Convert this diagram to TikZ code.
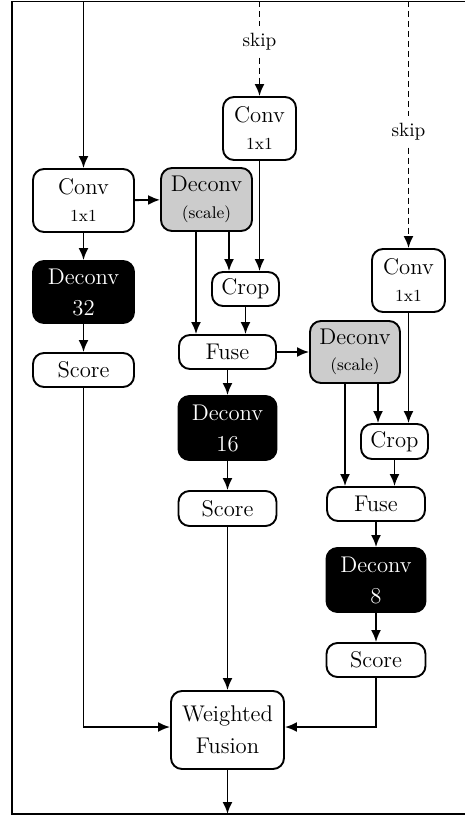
\documentclass[tikz,border=0pt]{standalone}
\usetikzlibrary{arrows.meta}
\font\mainfnt="[lmroman12-regular]:+tlig;" at 22.7pt
\font\smallfnt="[lmroman9-regular]:+tlig;" at 16.9pt
\font\skipfnt="[lmroman10-regular]:+tlig;" at 19.2pt
\newcommand\mainf{\fontsize{22.7}{31}\selectfont\mainfnt}
\newcommand\smallf{\fontsize{16.9}{22}\selectfont\smallfnt}
\newcommand\skipf{\fontsize{19.2}{24}\selectfont\skipfnt}
\begin{document}
\begin{tikzpicture}[x=1pt,y=-1pt,
  box/.style={draw, line width=1.9pt, rounded corners=11pt, align=center, inner sep=0pt, font=\mainf},
  grayb/.style={box, fill=black!20},
  blackb/.style={box, fill=black, text=white},
  arr/.style={-{Latex[length=12pt,width=10pt]}, line width=1.9pt},
  plainline/.style={line width=1.9pt},
  dashline/.style={line width=1.9pt, dash pattern=on 6pt off 4pt},
  dasharr/.style={arr, dash pattern=on 6pt off 4pt},
  skiplab/.style={inner sep=7pt, font=\skipf}]
\useasboundingbox (0,0) rectangle (465,818);
\draw[plainline] (12,1.5) rectangle (470,814);

% coordinates at the frame
\coordinate (top1) at (83.5,1.5);
\coordinate (top2) at (259.5,1.5);
\coordinate (top3) at (408.5,1.5);
\coordinate (bot) at (227.5,814);

% nodes
\node[box, minimum width=101pt, minimum height=63pt] (conv1) at (83.5,200.5) {Conv\\[-4pt]{\smallf 1x1}};
\node[grayb, minimum width=91pt, minimum height=63pt] (dsc1) at (206.5,199.5) {Deconv\\[-4pt]{\smallf (scale)}};
\node[box, minimum width=73pt, minimum height=63pt] (conv2) at (259.5,128.5) {Conv\\[-4pt]{\smallf 1x1}};
\node[box, minimum width=73pt, minimum height=63pt] (conv3) at (408.5,280.5) {Conv\\[-4pt]{\smallf 1x1}};
\node[blackb, minimum width=101pt, minimum height=62pt] (d32) at (83.5,292) {Deconv\\32};
\node[box, minimum width=101pt, minimum height=34pt] (s1) at (83.5,370) {Score};
\node[box, minimum width=67pt, minimum height=34pt] (crop1) at (245.5,289) {Crop};
\node[box, minimum width=97pt, minimum height=34pt] (fuse1) at (227.5,352) {Fuse};
\node[grayb, minimum width=90pt, minimum height=62pt] (dsc2) at (355,352) {Deconv\\[-5pt]{\smallf (scale)}};
\node[blackb, minimum width=98pt, minimum height=64pt] (d16) at (227.5,428) {Deconv\\16};
\node[box, minimum width=98pt, minimum height=35pt] (s2) at (227.5,508.5) {Score};
\node[box, minimum width=67pt, minimum height=35pt] (crop2) at (394.5,441.5) {Crop};
\node[box, minimum width=98pt, minimum height=34pt] (fuse2) at (376,504) {Fuse};
\node[blackb, minimum width=99pt, minimum height=64pt] (d8) at (376,580) {Deconv\\8};
\node[box, minimum width=99pt, minimum height=34pt] (s3) at (376,660) {Score};
\node[box, minimum width=113pt, minimum height=78pt] (wf) at (227.5,730) {Weighted\\[1pt]Fusion};

\node[skiplab] (skip1) at (259.5,42) {skip};
\node[skiplab] (skip2) at (408.5,132) {skip};

% connectors
\draw[arr] (top1) -- (conv1);
\draw[dashline] (top2) -- (skip1);
\draw[dasharr] (skip1) -- (conv2);
\draw[dashline] (top3) -- (skip2);
\draw[dasharr] (skip2) -- (conv3);

\draw[arr] (conv1) -- (dsc1);
\draw[arr] (conv1) -- (d32);
\draw[arr] (d32) -- (s1);

\draw[arr] ([xshift=22.5pt]dsc1.south) -- ([xshift=22.5pt]dsc1.south |- crop1.north);
\draw[arr] (conv2.south) -- (conv2.south |- crop1.north);
\draw[arr] ([xshift=-10.5pt]dsc1.south) -- ([xshift=-10.5pt]dsc1.south |- fuse1.north);
\draw[arr] (crop1.south) -- (crop1.south |- fuse1.north);

\draw[arr] (fuse1) -- (dsc2);
\draw[arr] (fuse1) -- (d16);
\draw[arr] (d16) -- (s2);

\draw[arr] ([xshift=23pt]dsc2.south) -- ([xshift=23pt]dsc2.south |- crop2.north);
\draw[arr] (conv3.south) -- (conv3.south |- crop2.north);
\draw[arr] ([xshift=-10pt]dsc2.south) -- ([xshift=-10pt]dsc2.south |- fuse2.north);
\draw[arr] (crop2.south) -- (crop2.south |- fuse2.north);

\draw[arr] (fuse2) -- (d8);
\draw[arr] (d8) -- (s3);

\draw[arr] (s1.south) |- ([yshift=3pt]wf.west);
\draw[arr] (s2) -- (wf);
\draw[arr] (s3.south) |- ([yshift=3pt]wf.east);
\draw[arr] (wf) -- (bot);
\end{tikzpicture}
\end{document}
